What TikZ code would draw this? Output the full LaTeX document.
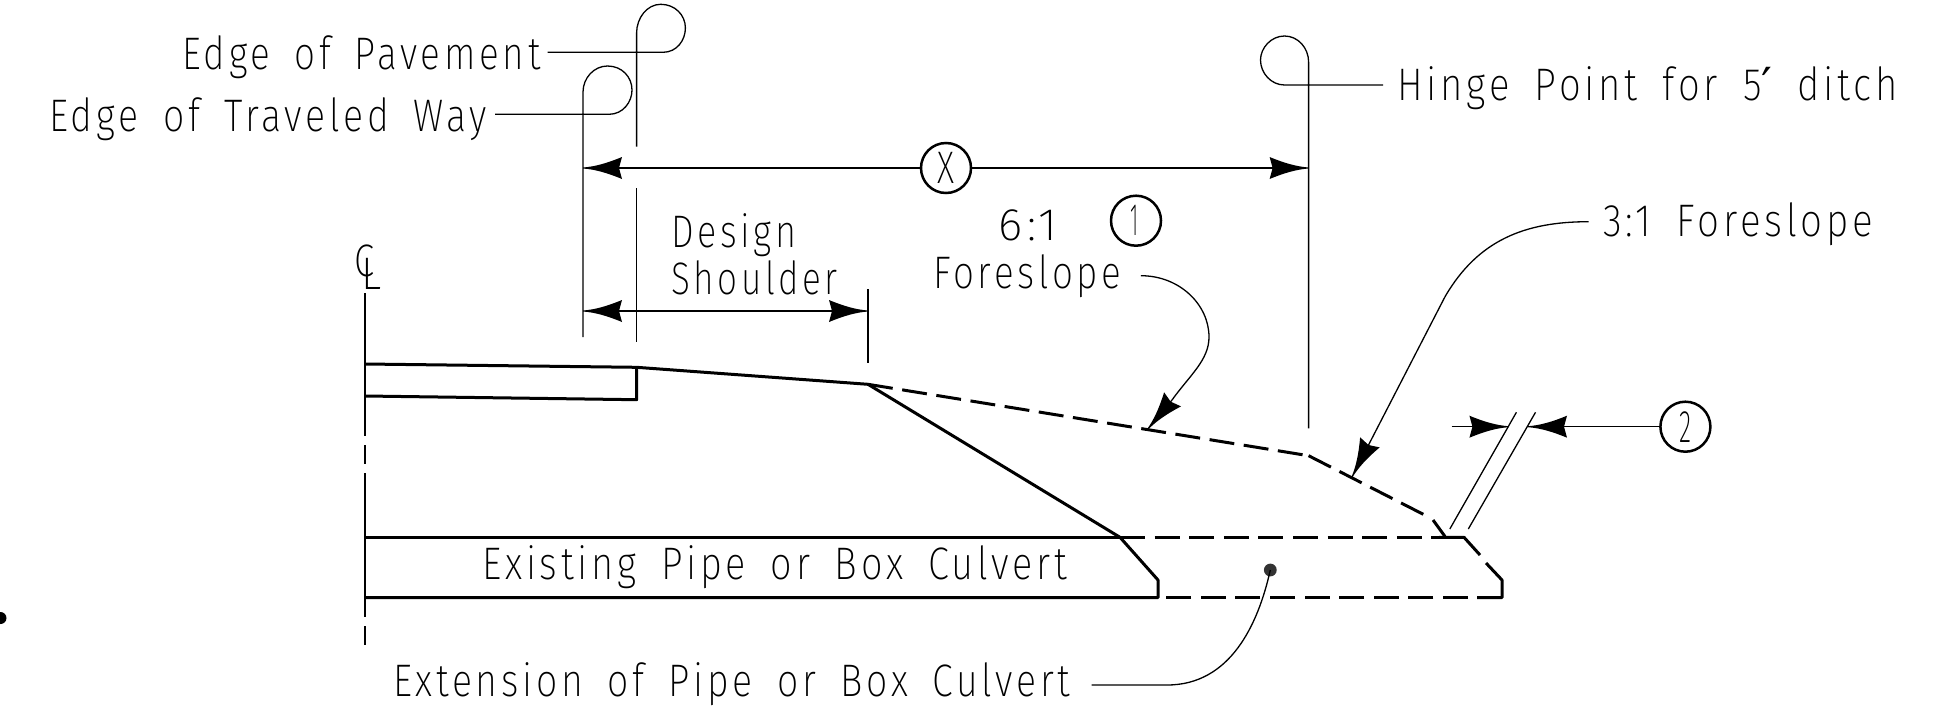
\documentclass[tikz,border=0pt]{standalone}
\usepackage{fontspec}
\usepackage{graphicx}
\usetikzlibrary{arrows.meta}
\newfontfamily\cadfont[FakeStretch=0.8,LetterSpace=8,WordSpace=1.7]{Fira Sans ExtraLight}
\newfontfamily\primefont{DejaVu Sans}
\newcommand\cadw[2]{\resizebox{\dimexpr #1pt/2\relax}{\height}{\fontsize{22.8pt}{26pt}\cadfont #2}}
\pgfdeclarearrow{
  name=CadTip,
  setup code={
    \pgfarrowssettipend{0pt}
    \pgfarrowssetlineend{-4pt}
    \pgfarrowssetvisualtipend{0pt}
    \pgfarrowssetbackend{-19.5pt}
    \pgfarrowssetvisualbackend{-19.5pt}
  },
  drawing code={
    \pgfpathmoveto{\pgfqpoint{0pt}{0.25pt}}
    \pgfpathcurveto{\pgfqpoint{-6pt}{0.7pt}}{\pgfqpoint{-12pt}{2.4pt}}{\pgfqpoint{-19.5pt}{5.5pt}}
    \pgfpathlineto{\pgfqpoint{-18pt}{0pt}}
    \pgfpathlineto{\pgfqpoint{-19.5pt}{-5.5pt}}
    \pgfpathcurveto{\pgfqpoint{-12pt}{-2.4pt}}{\pgfqpoint{-6pt}{-0.7pt}}{\pgfqpoint{0pt}{-0.25pt}}
    \pgfpathclose
    \pgfusepathqfill
  }
}
\tikzset{
  lbl/.style={inner sep=0pt,anchor=base west,xshift=-1pt,yshift=-0.7pt},
  thinline/.style={line width=0.65pt,black},
  dimline/.style={line width=0.7pt,black},
  heavy/.style={line width=1.5pt,black,line join=round},
  heavydash/.style={heavy,dash pattern=on 12.5pt off 4.8pt},
  numcircle/.style={circle,draw,line width=1.25pt,minimum size=25pt,inner sep=0pt},
  tipped/.style={-{CadTip}},
  bitipped/.style={{CadTip}-{CadTip}}
}
\begin{document}
\begin{tikzpicture}[x=0.5pt,y=-0.5pt]
\useasboundingbox (0,0) rectangle (1937,707);
% labels
\node[lbl] (pav) at (184,68.3) {\cadw{358}{Edge of Pavement}};
\node[lbl] (trav) at (50.7,130) {\cadw{438}{Edge of Traveled Way}};
\node[lbl] (hinge) at (1398.6,99.3) {\cadw{501}{Hinge Point for 5{\primefont ′} ditch}};
\node[lbl] (design) at (673,245.7) {\cadw{125}{Design}};
\node[lbl] (shoulder) at (673,293) {\cadw{166}{Shoulder}};
\node[lbl] (six) at (1000,239) {\cadw{59}{6:1}};
\node[lbl] (fore) at (935,287) {\cadw{188}{Foreslope}};
\node[lbl] (three) at (1605,235) {\cadw{270}{3:1 Foreslope}};
\node[lbl] (exist) at (484,578) {\cadw{585}{Existing Pipe or Box Culvert}};
\node[lbl] (extn) at (394.7,695) {\cadw{677}{Extension of Pipe or Box Culvert}};
\node[inner sep=0pt,anchor=base west] (clc) at (354.5,276) {\cadw{20}{C}};
\node[inner sep=0pt,anchor=base west] (cll) at (361.5,289) {\cadw{20}{L}};
\node[numcircle] (cx) at (946,168) {\cadw{17}{X}};
\node[numcircle] (cone) at (1136,220.7) {\cadw{8}{1}\hspace*{2pt}};
\node[numcircle] (ctwo) at (1685.4,426.7) {\cadw{12}{2}};
% key points
\coordinate (eL) at (583,168);
\coordinate (eR) at (1308.6,168);
\coordinate (sL) at (583,311);
\coordinate (sR) at (868,311);
\coordinate (clA) at (365,364);
\coordinate (pv) at (636.6,367.3);
\coordinate (sh) at (868,384.3);
\coordinate (hp) at (1308.6,455.7);
\coordinate (ts) at (1426,515.7);
\coordinate (pt) at (1120,537.3);
\coordinate (pb) at (1158,597.7);
\coordinate (pm) at (1158,580);
\coordinate (xt) at (1464,537.3);
\coordinate (xm) at (1502,580);
\coordinate (xb) at (1502,597.7);
\coordinate (dot) at (1270.3,570);
% loops and extension lines
\draw[thinline] (547.5,52.3) -- (663,52.3) .. controls (677,52.3) and (685.4,40) .. (685.4,28)
  .. controls (685.4,15) and (675,4.3) .. (660.7,4.3)
  .. controls (647,4.3) and (636.6,18) .. (636.6,33) -- (636.6,146.7);
\draw[thinline] (636.6,188) -- (636.6,341.7);
\draw[thinline] (495,114.3) -- (609,114.3) .. controls (623,114.3) and (632,102) .. (632,90)
  .. controls (632,77) and (622,66) .. (607.5,66)
  .. controls (594,66) and (583,78) .. (583,92) -- (583,337);
\draw[thinline] (1383,85) -- (1284.5,85) .. controls (1271,85) and (1260.5,73) .. (1260.5,60)
  .. controls (1260.5,48) and (1271,36) .. (1284.5,36)
  .. controls (1298,36) and (1308.6,48) .. (1308.6,62) -- (1308.6,428.3);
\draw[thinline] (868,289) -- (868,362.7);
% dimensions
\draw[dimline,tipped] (cx.west) -- (eL);
\draw[dimline,tipped] (cx.east) -- (eR);
\draw[dimline,bitipped] (sL) -- (sR);
\draw[dimline,tipped] (1451.5,426.7) -- (1508.4,426.7);
\draw[dimline,tipped] (ctwo.west) -- (1528,426.7);
% centre line
\draw[thinline] (365,293) -- (365,436) (365,445) -- (365,464.3) (365,473.3) -- (365,616.7) (365,626) -- (365,645);
% roadway
\draw[heavy] (clA) -- (pv) -- (sh);
\draw[heavy] (365,396) -- (636.6,399.7) -- (pv);
\draw[heavy] (sh) -- (pt);
\draw[heavydash] (sh) -- (hp);
\draw[heavydash] (hp) -- (ts);
\draw[heavy] (1433,520) -- (1445,536.5);
% pipe
\draw[heavy] (365,537.3) -- (pt);
\draw[heavydash] (pt) -- (1439,537.3);
\draw[heavy] (1439,537.3) -- (xt) -- (1480,555);
\draw[heavy] (1486,563) -- (xm) -- (xb) -- (1477,597.7);
\draw[heavydash] (1468,597.7) -- (pb);
\draw[heavy] (365,597.7) -- (pb) -- (pm) -- (pt);
% marker and parallels
\fill[black!80] (dot) circle [radius=3.2pt];
\draw[thinline] (1449.8,529) -- (1516.4,412.3);
\draw[thinline] (1468.3,529) -- (1535.5,412.3);
% leaders
\draw[thinline] (1140.8,275.7) .. controls (1180,275.7) and (1209,305) .. (1209,337)
  .. controls (1209,360) and (1190,375) .. (1172,400);
\draw[thinline,tipped] (1172,400) -- (1147.6,429.3);
\draw[thinline] (1588.6,221.7) .. controls (1525,221.7) and (1478,240) .. (1445,296.7);
\draw[thinline,tipped] (1445,296.7) -- (1352,477);
\draw[thinline] (dot) .. controls (1258,625) and (1230,685) .. (1167,685) -- (1091.5,685);
\fill (0.5,618) circle [radius=3pt];
\end{tikzpicture}
\end{document}
